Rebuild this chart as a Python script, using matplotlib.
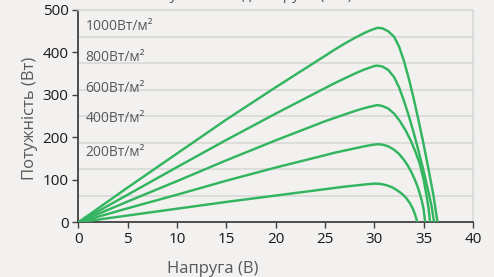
import numpy as np
import matplotlib
matplotlib.use("Agg")
import matplotlib.pyplot as plt

# irradiance levels and P-V curves
labels = ["1000Вт/м²", "800Вт/м²", "600Вт/м²", "400Вт/м²", "200Вт/м²"]
label_y = [460, 388, 316, 245, 165]

v_1000 = [0, 5, 10, 15, 20, 25, 26, 27, 28, 29, 29.7, 30.3, 30.8, 31.4, 32.0, 32.5, 33.0,
          33.5, 34.0, 34.5, 35.0, 35.5, 36.0, 36.4]
p_1000 = [0, 82, 162, 242, 318, 392, 407, 421, 434, 446, 453, 458, 457, 450, 437, 414, 380,
          338, 290, 238, 183, 124, 62, 0]

v_800 = [0, 5, 10, 15, 20, 25, 26, 27, 28, 29, 30.0, 30.3, 30.8, 31.4, 32.0, 32.5, 33.0,
         33.5, 34.0, 34.5, 35.0, 35.5, 35.8, 36.05]
p_800 = [0, 65, 130, 194, 256, 316, 328, 339, 350, 360, 368, 369, 367, 359, 342, 318, 286,
         250, 210, 166, 120, 70, 38, 0]

v_600 = [0, 5, 10, 15, 20, 25, 26, 27, 28, 29, 29.7, 30.3, 30.8, 31.4, 32.0, 32.6, 33.2,
         33.7, 34.2, 34.6, 35.0, 35.3, 35.5, 35.65]
p_600 = [0, 49, 97, 146, 193, 238, 246, 254, 262, 269, 273, 276, 274, 268, 256, 238, 215,
         192, 164, 138, 100, 62, 32, 0]

v_400 = [0, 5, 10, 15, 20, 25, 26, 27, 28, 29, 29.7, 30.3, 30.8, 31.4, 32.0, 32.5, 33.0,
         33.4, 33.8, 34.2, 34.5, 34.8, 35.0, 35.15]
p_400 = [0, 33, 65, 98, 129, 158, 164, 169, 174, 179, 182, 184, 183, 179, 171, 161, 147,
         133, 116, 95, 76, 52, 30, 0]

v_200 = [0, 5, 10, 15, 20, 25, 26, 27, 28, 29, 29.6, 30.0, 30.6, 31.2, 31.8, 32.3, 32.8,
         33.2, 33.6, 33.9, 34.15, 34.35]
p_200 = [0, 16, 32, 48, 63, 78, 81, 84, 86.5, 89, 90.3, 91, 90.5, 87.5, 82.5, 75.5, 67,
         58, 45, 32, 17, 0]

curves = [(v_1000, p_1000), (v_800, p_800), (v_600, p_600), (v_400, p_400), (v_200, p_200)]

plt.rcParams['font.family'] = ['Open Sans', 'DejaVu Sans']
bg = '#f2f1ef'
green = '#33b560'
grey_txt = '#595959'

fig = plt.figure(figsize=(4.94, 2.77), dpi=100, facecolor=bg)
ax = fig.add_axes([0.1587, 0.1975, 0.7988, 0.7664], facecolor=bg)

for v, p in curves:
    ax.plot(v, p, color=green, lw=1.75, solid_joinstyle='round', solid_capstyle='round', zorder=3)

for txt, y in zip(labels, label_y):
    ax.text(0.7, y, txt, fontsize=10, color=grey_txt, va='center', ha='left')

ax.set_xlim(0, 40)
ax.set_ylim(0, 500)
ax.set_xticks(np.arange(0, 41, 5))
ax.set_yticks(np.arange(0, 501, 100))
ax.set_yticks(np.arange(0, 501, 62.5), minor=True)
ax.grid(which='minor', axis='y', color='#d8d8d8', lw=1.2, zorder=0)
ax.tick_params(which='minor', left=False)
ax.tick_params(which='major', direction='out', length=4, width=1, color='#404040',
               labelsize=11, labelcolor='#1a1a1a', pad=3)

for side in ['left', 'bottom']:
    ax.spines[side].set_color('#404040')
    ax.spines[side].set_linewidth(1.3)
for side in ['top', 'right']:
    ax.spines[side].set_color('#d8d8d8')
    ax.spines[side].set_linewidth(1.2)

ax.set_xlabel('Напруга (В)', fontsize=12, color=grey_txt, va='center')
ax.xaxis.set_label_coords(0.34, -0.218)
ax.set_ylabel('Потужність (Вт)', fontsize=12, color=grey_txt, va='center')
ax.yaxis.set_label_coords(-0.122, 0.49)

# title sits mostly above the visible area, as in the reference
fig.text(205 / 494, 1 + 1.2 / 277, 'Залежність потужності від напруги (P-V)',
         fontsize=11, color=grey_txt, ha='center', va='baseline')

fig.savefig('out.png', dpi=100, facecolor=bg)
